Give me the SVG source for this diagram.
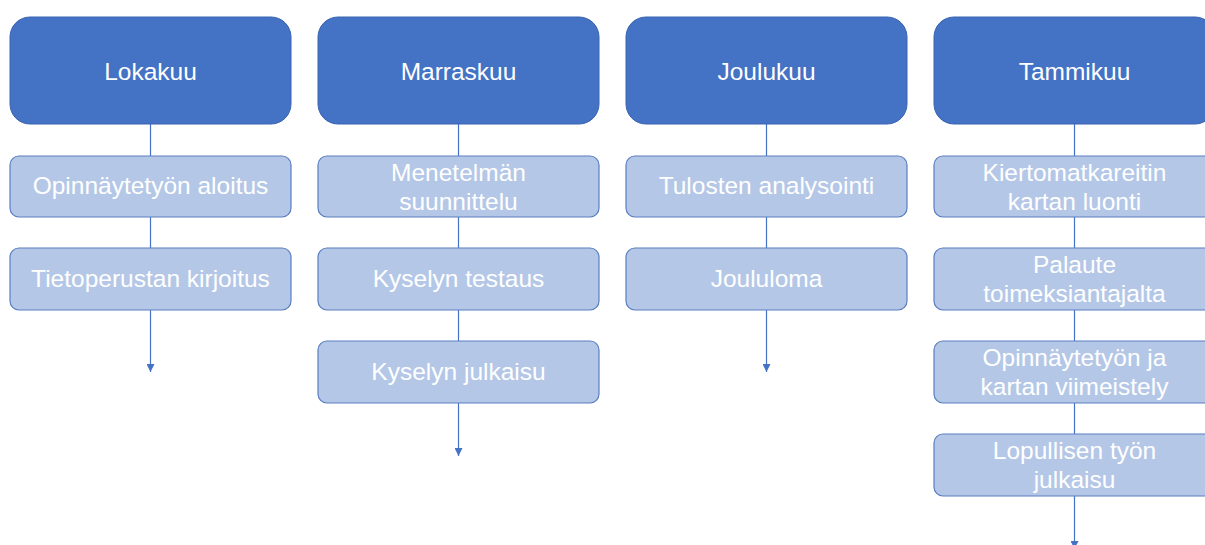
<svg xmlns="http://www.w3.org/2000/svg" width="1205" height="545" viewBox="0 0 1205 545">
  <defs>
    <style>
      .hdr { fill: #4472C4; stroke: #3A64B0; stroke-width: 1; }
      .sub { fill: #B4C7E7; stroke: #5A7EC0; stroke-width: 1.2; }
      .t { font-family: "Liberation Sans", Arial, sans-serif; font-size: 24.5px; fill: #FFFFFF; text-anchor: middle; }
      .c { stroke: #4472C4; stroke-width: 1.2; fill: none; }
    </style>
    <marker id="arr" viewBox="0 0 10 10" refX="10" refY="5" markerWidth="8" markerHeight="8" markerUnits="userSpaceOnUse" orient="auto">
      <path d="M0,0 L10,5 L0,10 z" fill="#4472C4"/>
    </marker>
  </defs>

  <rect width="1205" height="545" fill="#FFFFFF"/>

  <!-- connectors: vertical spines of each month column -->
  <g id="connectors">
    <line class="c" x1="150.5" y1="124" x2="150.5" y2="156"/>
    <line class="c" x1="150.5" y1="217" x2="150.5" y2="248"/>
    <line class="c" x1="150.5" y1="310" x2="150.5" y2="372" marker-end="url(#arr)"/>

    <line class="c" x1="458.5" y1="124" x2="458.5" y2="156"/>
    <line class="c" x1="458.5" y1="217" x2="458.5" y2="248"/>
    <line class="c" x1="458.5" y1="310" x2="458.5" y2="341"/>
    <line class="c" x1="458.5" y1="403" x2="458.5" y2="456" marker-end="url(#arr)"/>

    <line class="c" x1="766.5" y1="124" x2="766.5" y2="156"/>
    <line class="c" x1="766.5" y1="217" x2="766.5" y2="248"/>
    <line class="c" x1="766.5" y1="310" x2="766.5" y2="372" marker-end="url(#arr)"/>

    <line class="c" x1="1074.5" y1="124" x2="1074.5" y2="156"/>
    <line class="c" x1="1074.5" y1="217" x2="1074.5" y2="248"/>
    <line class="c" x1="1074.5" y1="310" x2="1074.5" y2="341"/>
    <line class="c" x1="1074.5" y1="403" x2="1074.5" y2="434"/>
    <line class="c" x1="1074.5" y1="496" x2="1074.5" y2="549" marker-end="url(#arr)"/>
  </g>

  <!-- October -->
  <g id="lokakuu">
    <rect class="hdr" x="10" y="17" width="281" height="107" rx="20"/>
    <text class="t" x="150.5" y="80">Lokakuu</text>
  </g>
  <g id="opinnaytetyon-aloitus">
    <rect class="sub" x="10" y="156" width="281" height="61" rx="9"/>
    <text class="t" x="150.5" y="194">Opinnäytetyön aloitus</text>
  </g>
  <g id="tietoperustan-kirjoitus">
    <rect class="sub" x="10" y="248" width="281" height="62" rx="9"/>
    <text class="t" x="150.5" y="287">Tietoperustan kirjoitus</text>
  </g>

  <!-- November -->
  <g id="marraskuu">
    <rect class="hdr" x="318" y="17" width="281" height="107" rx="20"/>
    <text class="t" x="458.5" y="80">Marraskuu</text>
  </g>
  <g id="menetelman-suunnittelu">
    <rect class="sub" x="318" y="156" width="281" height="61" rx="9"/>
    <text class="t" x="458.5" y="181">Menetelmän</text>
    <text class="t" x="458.5" y="210">suunnittelu</text>
  </g>
  <g id="kyselyn-testaus">
    <rect class="sub" x="318" y="248" width="281" height="62" rx="9"/>
    <text class="t" x="458.5" y="287">Kyselyn testaus</text>
  </g>
  <g id="kyselyn-julkaisu">
    <rect class="sub" x="318" y="341" width="281" height="62" rx="9"/>
    <text class="t" x="458.5" y="380">Kyselyn julkaisu</text>
  </g>

  <!-- December -->
  <g id="joulukuu">
    <rect class="hdr" x="626" y="17" width="281" height="107" rx="20"/>
    <text class="t" x="766.5" y="80">Joulukuu</text>
  </g>
  <g id="tulosten-analysointi">
    <rect class="sub" x="626" y="156" width="281" height="61" rx="9"/>
    <text class="t" x="766.5" y="194">Tulosten analysointi</text>
  </g>
  <g id="joululoma">
    <rect class="sub" x="626" y="248" width="281" height="62" rx="9"/>
    <text class="t" x="766.5" y="287">Joululoma</text>
  </g>

  <!-- January -->
  <g id="tammikuu">
    <rect class="hdr" x="934" y="17" width="281" height="107" rx="20"/>
    <text class="t" x="1074.5" y="80">Tammikuu</text>
  </g>
  <g id="kartan-luonti">
    <rect class="sub" x="934" y="156" width="281" height="61" rx="9"/>
    <text class="t" x="1074.5" y="181">Kiertomatkareitin</text>
    <text class="t" x="1074.5" y="210">kartan luonti</text>
  </g>
  <g id="palaute">
    <rect class="sub" x="934" y="248" width="281" height="62" rx="9"/>
    <text class="t" x="1074.5" y="273">Palaute</text>
    <text class="t" x="1074.5" y="302">toimeksiantajalta</text>
  </g>
  <g id="viimeistely">
    <rect class="sub" x="934" y="341" width="281" height="62" rx="9"/>
    <text class="t" x="1074.5" y="366">Opinnäytetyön ja</text>
    <text class="t" x="1074.5" y="395">kartan viimeistely</text>
  </g>
  <g id="lopullisen-julkaisu">
    <rect class="sub" x="934" y="434" width="281" height="62" rx="9"/>
    <text class="t" x="1074.5" y="459">Lopullisen työn</text>
    <text class="t" x="1074.5" y="488">julkaisu</text>
  </g>
</svg>
